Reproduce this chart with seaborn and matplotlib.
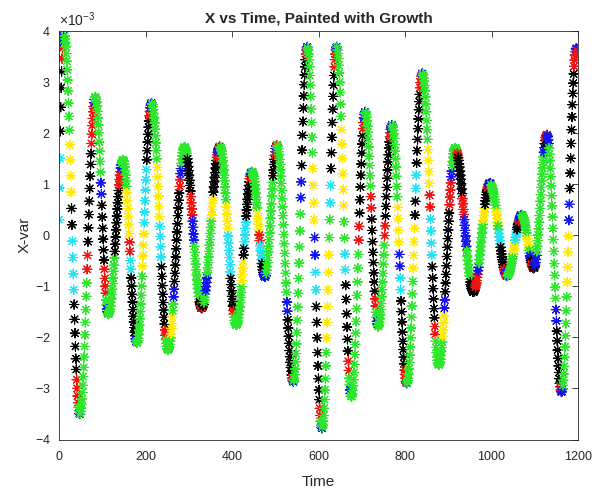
import numpy as np
import pandas as pd
import seaborn as sns
import matplotlib.pyplot as plt

# X-var readings in units of 1e-3 at even times t = 0, 2, ..., 1200
x_even = [
    0.30, 1.50, 2.50, 3.20, 3.65, 3.85, 3.90,
    3.84, 3.68, 3.40, 3.03, 2.58, 2.05, 1.47, 0.84, 0.20, -0.44, -1.07, -1.65, -2.18, -2.63, -3.00, -3.28, -3.44, -3.50,
    -3.45, -3.31, -3.08, -2.77, -2.39, -1.95, -1.46, -0.94, -0.40, 0.14, 0.66, 1.15, 1.59, 1.97, 2.28, 2.51, 2.65, 2.70,
    2.65, 2.52, 2.29, 2.00, 1.64, 1.23, 0.80, 0.35, -0.08, -0.49, -0.85, -1.14, -1.37, -1.50, -1.55,
    -1.52, -1.45, -1.32, -1.16, -0.95, -0.71, -0.45, -0.18, 0.10, 0.37, 0.63, 0.87, 1.08, 1.24, 1.37, 1.44, 1.47,
    1.44, 1.33, 1.17, 0.95, 0.67, 0.36, 0.03, -0.32, -0.67, -1.00, -1.31, -1.59, -1.81, -1.97, -2.08, -2.11,
    -2.07, -1.95, -1.76, -1.50, -1.18, -0.81, -0.41, 0.02, 0.45, 0.88, 1.28, 1.65, 1.97, 2.23, 2.42, 2.54, 2.58,
    2.55, 2.45, 2.29, 2.07, 1.80, 1.49, 1.14, 0.76, 0.36, -0.03, -0.43, -0.81, -1.16, -1.47, -1.74, -1.96, -2.12, -2.22, -2.25,
    -2.22, -2.14, -2.01, -1.83, -1.61, -1.35, -1.06, -0.75, -0.43, -0.10, 0.22, 0.53, 0.82, 1.08, 1.30, 1.48, 1.61, 1.69, 1.72,
    1.70, 1.64, 1.55, 1.42, 1.26, 1.07, 0.86, 0.63, 0.39, 0.15, -0.10, -0.34, -0.57, -0.78, -0.97, -1.13, -1.26, -1.35, -1.41, -1.43,
    -1.41, -1.36, -1.27, -1.16, -1.01, -0.84, -0.64, -0.43, -0.20, 0.03, 0.27, 0.50, 0.73, 0.94, 1.13, 1.31, 1.46, 1.57, 1.66, 1.71, 1.73,
    1.71, 1.64, 1.52, 1.36, 1.17, 0.94, 0.69, 0.41, 0.13, -0.16, -0.44, -0.72, -0.97, -1.20, -1.39, -1.55, -1.67, -1.74, -1.76,
    -1.74, -1.67, -1.56, -1.41, -1.22, -1.01, -0.77, -0.52, -0.26, 0.00, 0.25, 0.49, 0.70, 0.89, 1.04, 1.15, 1.22, 1.24,
    1.22, 1.15, 1.04, 0.90, 0.73, 0.53, 0.32, 0.10, -0.11, -0.31, -0.48, -0.62, -0.73, -0.80, -0.82,
    -0.79, -0.69, -0.54, -0.33, -0.09, 0.18, 0.47, 0.76, 1.03, 1.27, 1.48, 1.63, 1.73, 1.76,
    1.73, 1.63, 1.48, 1.27, 1.01, 0.71, 0.38, 0.01, -0.36, -0.75, -1.12, -1.49, -1.82, -2.12, -2.38, -2.59, -2.74, -2.84, -2.87,
    -2.81, -2.62, -2.32, -1.91, -1.41, -0.85, -0.23, 0.41, 1.04, 1.66, 2.22, 2.72, 3.13, 3.43, 3.62, 3.68,
    3.62, 3.43, 3.12, 2.71, 2.20, 1.61, 0.97, 0.30, -0.39, -1.07, -1.71, -2.30, -2.81, -3.22, -3.53, -3.72, -3.78,
    -3.72, -3.53, -3.22, -2.81, -2.30, -1.71, -1.07, -0.39, 0.30, 0.97, 1.61, 2.20, 2.71, 3.12, 3.43, 3.62, 3.68,
    3.62, 3.45, 3.17, 2.79, 2.32, 1.78, 1.20, 0.58, -0.06, -0.68, -1.26, -1.80, -2.27, -2.65, -2.93, -3.10, -3.16,
    -3.11, -2.95, -2.69, -2.34, -1.92, -1.44, -0.92, -0.38, 0.17, 0.69, 1.17, 1.60, 1.94, 2.20, 2.36, 2.41,
    2.36, 2.23, 2.01, 1.72, 1.36, 0.96, 0.53, 0.09, -0.34, -0.74, -1.10, -1.39, -1.61, -1.74, -1.79,
    -1.75, -1.64, -1.46, -1.21, -0.92, -0.57, -0.20, 0.18, 0.56, 0.93, 1.27, 1.57, 1.82, 2.00, 2.11, 2.15,
    2.11, 1.98, 1.77, 1.49, 1.15, 0.75, 0.32, -0.14, -0.61, -1.07, -1.50, -1.90, -2.24, -2.52, -2.73, -2.86, -2.90,
    -2.85, -2.72, -2.49, -2.19, -1.82, -1.39, -0.91, -0.40, 0.13, 0.66, 1.17, 1.65, 2.08, 2.45, 2.75, 2.98, 3.11, 3.16,
    3.12, 3.01, 2.82, 2.56, 2.24, 1.87, 1.46, 1.01, 0.55, 0.08, -0.39, -0.84, -1.25, -1.62, -1.94, -2.20, -2.39, -2.50, -2.54,
    -2.51, -2.43, -2.28, -2.09, -1.86, -1.58, -1.27, -0.94, -0.60, -0.24, 0.10, 0.43, 0.74, 1.02, 1.25, 1.44, 1.59, 1.67, 1.70,
    1.68, 1.64, 1.56, 1.46, 1.33, 1.17, 1.00, 0.81, 0.61, 0.40, 0.19, -0.02, -0.22, -0.41, -0.58, -0.74, -0.87, -0.97, -1.05, -1.09, -1.11,
    -1.10, -1.05, -0.98, -0.89, -0.77, -0.63, -0.48, -0.31, -0.14, 0.04, 0.21, 0.38, 0.53, 0.67, 0.79, 0.88, 0.95, 1.00, 1.01,
    1.00, 0.97, 0.91, 0.84, 0.75, 0.64, 0.52, 0.39, 0.25, 0.11, -0.04, -0.17, -0.31, -0.43, -0.53, -0.63, -0.70, -0.76, -0.79, -0.80,
    -0.79, -0.76, -0.71, -0.65, -0.56, -0.47, -0.37, -0.26, -0.15, -0.04, 0.06, 0.15, 0.23, 0.30, 0.35, 0.38, 0.39,
    0.38, 0.34, 0.28, 0.19, 0.10, -0.01, -0.13, -0.25, -0.36, -0.45, -0.54, -0.60, -0.64, -0.65,
    -0.62, -0.54, -0.40, -0.22, 0.00, 0.25, 0.52, 0.79, 1.06, 1.31, 1.53, 1.71, 1.85, 1.93, 1.96,
    1.92, 1.79, 1.58, 1.30, 0.96, 0.57, 0.13, -0.32, -0.79, -1.24, -1.68, -2.07, -2.41, -2.69, -2.90, -3.03, -3.07,
    -3.01, -2.84, -2.57, -2.19, -1.73, -1.21, -0.63, -0.02, 0.60, 1.21, 1.79, 2.31, 2.77, 3.15, 3.42, 3.59, 3.65,
    3.63, 3.57,
]

# X-var readings in units of 1e-3 at odd times t = 1, 3, ..., 1199
x_odd = [
    0.92, 2.03, 2.88, 3.45, 3.77, 3.89,
    3.89, 3.77, 3.55, 3.23, 2.82, 2.32, 1.76, 1.16, 0.52, -0.12, -0.76, -1.36, -1.92, -2.42, -2.83, -3.15, -3.37, -3.49,
    -3.49, -3.39, -3.21, -2.94, -2.59, -2.18, -1.71, -1.20, -0.67, -0.13, 0.40, 0.91, 1.38, 1.79, 2.14, 2.41, 2.59, 2.69,
    2.69, 2.60, 2.42, 2.15, 1.82, 1.44, 1.02, 0.58, 0.13, -0.29, -0.67, -1.00, -1.27, -1.45, -1.54,
    -1.54, -1.49, -1.39, -1.25, -1.06, -0.84, -0.59, -0.32, -0.04, 0.24, 0.51, 0.75, 0.98, 1.17, 1.31, 1.41, 1.46,
    1.46, 1.39, 1.26, 1.06, 0.82, 0.52, 0.20, -0.14, -0.50, -0.84, -1.16, -1.46, -1.70, -1.90, -2.03, -2.10,
    -2.10, -2.02, -1.86, -1.64, -1.35, -1.00, -0.61, -0.20, 0.24, 0.67, 1.08, 1.47, 1.82, 2.11, 2.33, 2.49, 2.57,
    2.57, 2.51, 2.38, 2.19, 1.94, 1.65, 1.32, 0.95, 0.56, 0.17, -0.23, -0.62, -0.99, -1.32, -1.61, -1.86, -2.05, -2.18, -2.24,
    -2.24, -2.19, -2.08, -1.93, -1.73, -1.48, -1.21, -0.91, -0.59, -0.27, 0.06, 0.38, 0.68, 0.95, 1.20, 1.40, 1.55, 1.66, 1.71,
    1.72, 1.68, 1.60, 1.49, 1.34, 1.17, 0.97, 0.75, 0.51, 0.27, 0.02, -0.22, -0.46, -0.68, -0.88, -1.05, -1.20, -1.31, -1.39, -1.43,
    -1.43, -1.39, -1.32, -1.22, -1.09, -0.93, -0.74, -0.54, -0.32, -0.09, 0.15, 0.39, 0.62, 0.84, 1.04, 1.22, 1.39, 1.52, 1.62, 1.69, 1.73,
    1.72, 1.68, 1.58, 1.45, 1.27, 1.06, 0.82, 0.55, 0.27, -0.02, -0.30, -0.58, -0.85, -1.09, -1.30, -1.48, -1.61, -1.71, -1.75,
    -1.75, -1.71, -1.62, -1.49, -1.32, -1.12, -0.89, -0.65, -0.39, -0.13, 0.13, 0.37, 0.60, 0.80, 0.97, 1.10, 1.19, 1.23,
    1.23, 1.19, 1.10, 0.98, 0.82, 0.63, 0.42, 0.21, 0.00, -0.21, -0.40, -0.56, -0.68, -0.77, -0.81,
    -0.81, -0.75, -0.62, -0.44, -0.22, 0.04, 0.33, 0.61, 0.90, 1.16, 1.38, 1.56, 1.69, 1.75,
    1.75, 1.69, 1.57, 1.38, 1.15, 0.87, 0.55, 0.20, -0.17, -0.56, -0.94, -1.31, -1.66, -1.98, -2.26, -2.49, -2.67, -2.80, -2.86,
    -2.85, -2.73, -2.48, -2.13, -1.67, -1.14, -0.55, 0.08, 0.73, 1.36, 1.95, 2.48, 2.94, 3.29, 3.54, 3.66,
    3.66, 3.54, 3.29, 2.93, 2.46, 1.91, 1.30, 0.63, -0.05, -0.73, -1.40, -2.01, -2.56, -3.03, -3.39, -3.64, -3.76,
    -3.76, -3.64, -3.39, -3.03, -2.56, -2.01, -1.40, -0.73, -0.05, 0.63, 1.30, 1.91, 2.46, 2.93, 3.29, 3.54, 3.66,
    3.67, 3.55, 3.32, 2.99, 2.56, 2.06, 1.50, 0.89, 0.26, -0.37, -0.98, -1.54, -2.04, -2.47, -2.80, -3.03, -3.15,
    -3.15, -3.04, -2.83, -2.53, -2.14, -1.69, -1.18, -0.65, -0.10, 0.43, 0.94, 1.39, 1.78, 2.08, 2.29, 2.40,
    2.40, 2.31, 2.13, 1.87, 1.54, 1.16, 0.75, 0.31, -0.13, -0.54, -0.92, -1.25, -1.51, -1.69, -1.78,
    -1.78, -1.71, -1.56, -1.34, -1.07, -0.75, -0.39, -0.01, 0.37, 0.75, 1.11, 1.43, 1.70, 1.92, 2.07, 2.14,
    2.14, 2.05, 1.89, 1.64, 1.33, 0.95, 0.54, 0.09, -0.38, -0.84, -1.29, -1.70, -2.08, -2.39, -2.64, -2.80, -2.89,
    -2.89, -2.80, -2.62, -2.35, -2.01, -1.61, -1.15, -0.65, -0.13, 0.39, 0.91, 1.41, 1.87, 2.27, 2.61, 2.88, 3.06, 3.15,
    3.15, 3.07, 2.92, 2.70, 2.41, 2.06, 1.67, 1.24, 0.78, 0.31, -0.16, -0.62, -1.05, -1.44, -1.79, -2.08, -2.30, -2.45, -2.53,
    -2.53, -2.48, -2.36, -2.20, -1.98, -1.72, -1.43, -1.11, -0.77, -0.42, -0.07, 0.27, 0.59, 0.88, 1.14, 1.36, 1.52, 1.64, 1.69,
    1.70, 1.66, 1.60, 1.51, 1.39, 1.25, 1.09, 0.90, 0.71, 0.50, 0.30, 0.09, -0.12, -0.31, -0.50, -0.66, -0.80, -0.92, -1.01, -1.07, -1.11,
    -1.11, -1.08, -1.02, -0.94, -0.83, -0.70, -0.55, -0.39, -0.23, -0.05, 0.13, 0.29, 0.45, 0.60, 0.73, 0.84, 0.92, 0.98, 1.01,
    1.01, 0.98, 0.94, 0.88, 0.79, 0.69, 0.58, 0.45, 0.32, 0.18, 0.03, -0.11, -0.24, -0.37, -0.48, -0.58, -0.67, -0.73, -0.78, -0.80,
    -0.80, -0.78, -0.74, -0.68, -0.61, -0.52, -0.42, -0.31, -0.21, -0.10, 0.01, 0.11, 0.20, 0.27, 0.33, 0.37, 0.39,
    0.39, 0.36, 0.31, 0.24, 0.15, 0.04, -0.07, -0.19, -0.30, -0.41, -0.50, -0.57, -0.62, -0.65,
    -0.64, -0.59, -0.48, -0.32, -0.11, 0.12, 0.38, 0.66, 0.93, 1.19, 1.42, 1.62, 1.79, 1.90, 1.95,
    1.95, 1.86, 1.70, 1.45, 1.14, 0.77, 0.35, -0.09, -0.56, -1.02, -1.46, -1.88, -2.25, -2.56, -2.81, -2.97, -3.06,
    -3.06, -2.94, -2.72, -2.39, -1.97, -1.48, -0.92, -0.33, 0.29, 0.91, 1.50, 2.06, 2.55, 2.97, 3.30, 3.52, 3.64,
    3.64, 3.60,
]

# growth class of each even-time point (k black, r red, b blue, g green, y yellow, c cyan)
growth_even = (
    "cckkrbb"
    "ggggggyykcckkkrrgb"
    "ggggggggrkkkkrrrbg"
    "ggggggbkkkrrgbg"
    "gggggggkkkkkrrbgg"
    "ggggyyyrckkkkkbg"
    "ggggggyyccckkkrbb"
    "ggggggyyycckkkkrggg"
    "gggyygbkkkkkkrbgggg"
    "gggkkkkrrbbggggggkrk"
    "rkggbbgggggyykkkkrbbr"
    "gggggggyyccckkkrggg"
    "ggggggyykcckkkkrbg"
    "ggggggyyrcckkbb"
    "bggggggggkkrbr"
    "gggggggggggbkkkkkrb"
    "ggggggggbkkkkkrb"
    "ggggggyybckkkkrgb"
    "gggggyyygckkkkrrb"
    "gggggyyygckkkrgbg"
    "ggggggggrkkkkrbb"
    "ggggggrkkkkrgbg"
    "gggggggrkkkkkrbb"
    "ggggggyybckkkkrrb"
    "gggggggyykckkkkrrb"
    "ggggggyyrcckkkrgggg"
    "ggggyybkkkkkrrbgggg"
    "ggrkkkkkrrbbbggggkkkk"
    "kkrrrbgggggyykkkrbb"
    "bggggggyygcckkkkrbrb"
    "gggggggyycckkrbbb"
    "ggggggyygbkrkr"
    "kbbggggggggbkrr"
    "bbggggggggbkkkkrb"
    "bgggggyybkkkkkrrb"
    "br"
)

# growth class of each odd-time point
growth_odd = (
    "ckkrbb"
    "ggggggyykcckkkrrgb"
    "ggggggggrkkkkrrrbg"
    "ggggggbkkkrrgbg"
    "gggggggkkkkkrrbgg"
    "ggggyyyrckkkkkbg"
    "ggggggyyccckkkrbb"
    "ggggggyyycckkkkrggg"
    "gggyygbkkkkkkrbgggg"
    "gggkkkkrrbbggggggkrk"
    "rkggbbgggggyykkkkrbbr"
    "gggggggyyccckkkrggg"
    "ggggggyykcckkkkrbg"
    "ggggggyyrcckkbb"
    "bggggggggkkrbr"
    "gggggggggggbkkkkkrb"
    "ggggggggbkkkkkrb"
    "ggggggyybckkkkrgb"
    "gggggyyygckkkkrrb"
    "gggggyyygckkkrgbg"
    "ggggggggrkkkkrbb"
    "ggggggrkkkkrgbg"
    "gggggggrkkkkkrbb"
    "ggggggyybckkkkrrb"
    "gggggggyykckkkkrrb"
    "ggggggyyrcckkkrgggg"
    "ggggyybkkkkkrrbgggg"
    "ggrkkkkkrrbbbggggkkkk"
    "kkrrrbgggggyykkkrbb"
    "bggggggyygcckkkkrbrb"
    "gggggggyycckkrbbb"
    "ggggggyygbkrkr"
    "kbbggggggggbkrr"
    "bbggggggggbkkkkrb"
    "bgggggyybkkkkkrrb"
    "br"
)

time_even = np.arange(0, 1201, 2)
time_odd = np.arange(1, 1200, 2)
assert len(x_even) == len(time_even) == len(growth_even)
assert len(x_odd) == len(time_odd) == len(growth_odd)

x_ticks = [0, 200, 400, 600, 800, 1000, 1200]
y_ticks = [-4e-3, -3e-3, -2e-3, -1e-3, 0, 1e-3, 2e-3, 3e-3, 4e-3]

colours = {"k": "#000000", "r": "#f21212", "b": "#1414f0",
           "g": "#2ee62e", "y": "#ffea00", "c": "#22e3f5"}

df = pd.concat([
    pd.DataFrame({"Time": time_even, "X": np.array(x_even) * 1e-3, "Growth": list(growth_even)}),
    pd.DataFrame({"Time": time_odd, "X": np.array(x_odd) * 1e-3, "Growth": list(growth_odd)}),
]).sort_values("Time").reset_index(drop=True)

sns.set_style("white")
plt.rcParams["font.family"] = ["Liberation Sans", "DejaVu Sans"]
plt.rcParams["axes.unicode_minus"] = False
plt.rcParams["mathtext.fontset"] = "custom"
plt.rcParams["mathtext.rm"] = "Liberation Sans"

fig = plt.figure(figsize=(5.96, 4.91), dpi=100)
ax = fig.add_axes([59 / 596, 51.5 / 491, 519 / 596, 409 / 491])

sns.scatterplot(data=df, x="Time", y="X", hue="Growth", palette=colours,
                marker=(8, 2, 0), s=45, linewidth=0.8, legend=False, ax=ax)

ax.set_xlim(0, 1200)
ax.set_ylim(-4e-3, 4e-3)
ax.set_xticks(x_ticks)
ax.set_yticks(y_ticks)
ax.ticklabel_format(style="sci", axis="y", scilimits=(0, 0), useMathText=True)
ax.yaxis.get_offset_text().set_fontsize(10)
ax.yaxis.get_offset_text().set_color("#262626")

ax.tick_params(direction="in", top=True, right=True, length=4, width=0.6,
               colors="#262626", labelsize=9)
ax.tick_params(axis="x", pad=8)
ax.tick_params(axis="y", pad=6)
for sp in ax.spines.values():
    sp.set_color("#262626")
    sp.set_linewidth(0.6)

ax.set_title("X vs Time, Painted with Growth", fontsize=11, fontweight="bold", pad=6)
ax.set_xlabel("Time", fontsize=11, color="#262626", labelpad=9)
ax.set_ylabel("X-var", fontsize=11, color="#262626", labelpad=2)

fig.savefig("out.png", dpi=100)
